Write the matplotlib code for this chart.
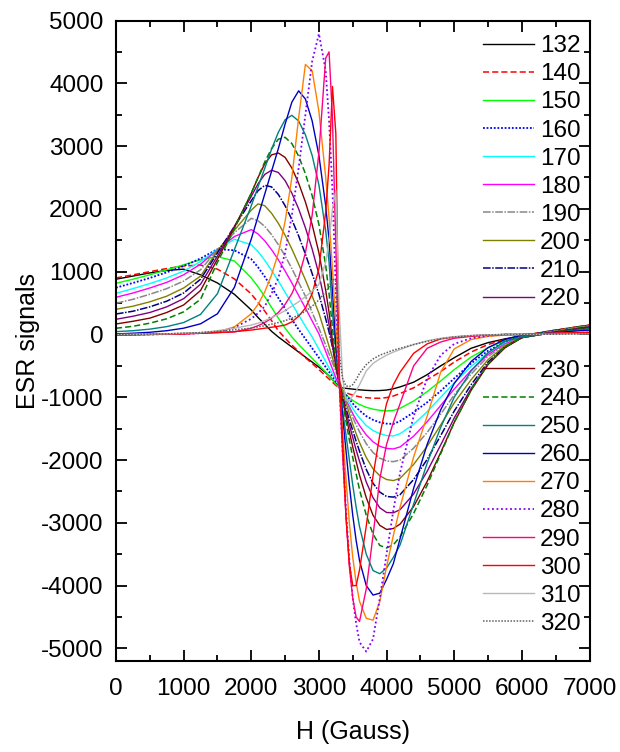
import matplotlib
matplotlib.use("Agg")
import matplotlib.pyplot as plt
from matplotlib.ticker import MultipleLocator

plt.rcParams['font.family'] = ['Liberation Sans', 'DejaVu Sans']
plt.rcParams['axes.unicode_minus'] = False

# Magnetic field grid (Gauss)
H = [0, 250, 500, 750, 1000, 1250, 1500, 1750, 2000, 2100, 2200, 2300, 2400, 2500,
     2600, 2700, 2800, 2900, 3000, 3100, 3150, 3200, 3250, 3300, 3350, 3400, 3450,
     3500, 3550, 3600, 3700, 3800, 3900, 4000, 4100, 4200, 4400, 4600, 4800, 5000,
     5250, 5500, 5750, 6000, 6500, 7000]

temps = ["132", "140", "150", "160", "170", "180", "190", "200", "210", "220",
         "230", "240", "250", "260", "270", "280", "290", "300", "310", "320"]

s132 = [880, 930, 980, 1020, 1040, 950, 820, 640, 390, 270, 160, 50, -40, -120,
        -200, -280, -360, -440, -520, -610, -660, -720, -780, -830, -850, -858, -864,
        -870, -876, -882, -890, -895, -893, -885, -865, -835, -760, -640, -500, -370,
        -220, -130, -70, -20, 70, 150]
s140 = [900, 950, 1000, 1050, 1090, 1105, 1040, 885, 645, 510, 370, 220, 60, -60,
        -170, -270, -370, -460, -560, -660, -710, -760, -810, -855, -895, -925, -948,
        -965, -980, -993, -1007, -1015, -1016, -1005, -980, -940, -850, -720, -590, -440,
        -280, -160, -80, -20, 70, 150]
s150 = [815, 880, 950, 1030, 1110, 1190, 1240, 1170, 900, 760, 600, 430, 260, 100,
        -40, -160, -270, -380, -490, -600, -660, -720, -790, -850, -910, -960, -1010,
        -1050, -1085, -1115, -1160, -1190, -1208, -1218, -1210, -1175, -1060, -910, -740, -560,
        -360, -210, -100, -30, 60, 140]
s160 = [745, 820, 900, 990, 1090, 1210, 1360, 1340, 1200, 1070, 920, 750, 580, 410,
        240, 80, -70, -220, -370, -520, -595, -670, -745, -820, -890, -960, -1030,
        -1100, -1160, -1210, -1300, -1360, -1400, -1420, -1425, -1380, -1240, -1080, -900, -700,
        -460, -260, -120, -30, 60, 130]
s170 = [656, 730, 810, 900, 1010, 1160, 1360, 1515, 1430, 1320, 1180, 1020, 850, 670,
        490, 310, 130, -40, -235, -430, -530, -625, -720, -820, -910, -1000, -1090,
        -1180, -1260, -1330, -1450, -1530, -1580, -1610, -1616, -1580, -1430, -1230, -1000, -770,
        -510, -290, -140, -40, 50, 130]
s180 = [592, 660, 740, 830, 950, 1120, 1350, 1560, 1670, 1600, 1490, 1350, 1190, 1010,
        820, 620, 420, 215, 10, -270, -410, -550, -690, -820, -940, -1050, -1150,
        -1260, -1360, -1450, -1600, -1710, -1780, -1815, -1823, -1790, -1620, -1390, -1130, -870,
        -570, -320, -150, -40, 50, 130]
s190 = [497, 560, 640, 730, 850, 1030, 1350, 1620, 1850, 1810, 1720, 1590, 1430, 1250,
        1050, 830, 610, 350, 100, -170, -310, -450, -590, -740, -880, -1030, -1170,
        -1320, -1440, -1550, -1740, -1880, -1970, -2015, -2025, -2000, -1810, -1560, -1270, -960,
        -630, -350, -160, -40, 50, 130]
s200 = [401, 450, 520, 610, 740, 930, 1330, 1660, 1980, 2080, 2050, 1930, 1770, 1580,
        1360, 1120, 870, 610, 340, -10, -190, -370, -550, -730, -910, -1090, -1260,
        -1430, -1580, -1720, -1960, -2140, -2250, -2310, -2327, -2290, -2070, -1780, -1440, -1090,
        -720, -400, -180, -40, 50, 130]
s210 = [326, 370, 440, 530, 660, 880, 1300, 1720, 2130, 2290, 2375, 2350, 2230, 2050,
        1830, 1570, 1280, 970, 640, 250, 40, -200, -480, -790, -990, -1180, -1360,
        -1530, -1700, -1860, -2150, -2370, -2510, -2580, -2590, -2550, -2310, -1990, -1610, -1220,
        -800, -440, -200, -50, 40, 120]
s220 = [242, 290, 350, 440, 570, 800, 1250, 1720, 2200, 2400, 2550, 2615, 2580, 2450,
        2250, 2000, 1700, 1360, 960, 450, 150, -180, -480, -780, -1010, -1230, -1440,
        -1640, -1840, -2020, -2350, -2600, -2760, -2835, -2840, -2790, -2540, -2180, -1760, -1330,
        -860, -470, -210, -50, 40, 120]
s230 = [167, 210, 260, 350, 470, 700, 1200, 1700, 2250, 2500, 2720, 2860, 2890, 2820,
        2650, 2410, 2110, 1750, 1300, 700, 350, -100, -450, -780, -1040, -1300, -1550,
        -1790, -2020, -2240, -2600, -2880, -3040, -3105, -3090, -3020, -2740, -2340, -1880, -1400,
        -890, -480, -210, -50, 40, 110]
s240 = [99, 130, 180, 250, 360, 560, 1150, 1680, 2250, 2500, 2750, 2960, 3110, 3140,
        3040, 2840, 2560, 2210, 1750, 1100, 650, 100, -380, -770, -1070, -1380, -1680,
        -1960, -2220, -2470, -2880, -3180, -3360, -3400, -3350, -3220, -2850, -2400, -1900, -1400,
        -880, -470, -200, -50, 40, 100]
s250 = [45, 60, 85, 125, 190, 320, 650, 1350, 2050, 2350, 2650, 2950, 3220, 3420,
        3490, 3400, 3180, 2850, 2380, 1650, 1150, 350, -250, -750, -1200, -1600, -2000,
        -2400, -2750, -3060, -3500, -3760, -3810, -3720, -3550, -3350, -2700, -2050, -1480, -1000,
        -580, -290, -110, -40, 30, 90]
s260 = [8, 20, 35, 60, 100, 170, 330, 750, 1520, 1880, 2240, 2600, 2960, 3350,
        3700, 3880, 3750, 3400, 2850, 2050, 1500, 700, -150, -750, -1300, -1850, -2400,
        -2880, -3280, -3600, -4000, -4150, -4120, -3900, -3650, -3250, -2450, -1750, -1200, -780,
        -430, -210, -80, -10, 30, 70]
s270 = [-5, 0, 5, 10, 15, 25, 40, 120, 330, 480, 680, 950, 1300, 1800,
        2500, 3450, 4300, 4200, 3550, 2500, 1850, 1050, 150, -750, -1550, -2300, -3000,
        -3550, -3950, -4250, -4520, -4550, -4250, -3700, -3200, -2750, -1950, -1300, -600, -230,
        -80, -30, -10, 0, 20, 40]
s280 = [-10, -5, 0, 5, 10, 20, 40, 110, 250, 340, 450, 650, 900, 1300,
        1900, 2650, 3500, 4350, 4790, 4200, 3400, 2300, 700, -750, -1850, -2800, -3600,
        -4200, -4600, -4900, -5050, -4850, -4200, -3500, -2800, -2200, -1300, -700, -330, -150,
        -60, -20, 0, 0, 15, 30]
s290 = [-10, -5, 0, 5, 10, 20, 30, 40, 100, 140, 190, 260, 350, 480,
        650, 900, 1300, 1900, 2900, 4400, 4500, 3450, 1400, -750, -1900, -2900, -3700,
        -4200, -4500, -4570, -4050, -3200, -2300, -1750, -1400, -1100, -500, -220, -120, -60,
        -30, -10, 0, 0, 15, 25]
s300 = [-10, -5, 0, 5, 10, 20, 30, 45, 70, 85, 100, 115, 130, 150,
        200, 290, 420, 650, 1050, 1950, 2700, 3950, 3200, -600, -1700, -2900, -3650,
        -4000, -4000, -3750, -3050, -2250, -1600, -1100, -800, -600, -300, -150, -70, -40,
        -20, -10, 0, 0, 20, 30]
s310 = [0, 2, 5, 10, 20, 30, 60, 100, 150, 180, 220, 270, 320, 380,
        450, 520, 600, 690, 800, 1150, 1500, 2000, 2300, 400, -700, -1050, -1050,
        -980, -900, -800, -580, -460, -390, -330, -280, -240, -160, -100, -60, -35,
        -15, -5, 0, 0, 5, 10]
s320 = [0, 2, 5, 10, 20, 30, 50, 75, 100, 120, 140, 165, 190, 220,
        260, 310, 370, 450, 550, 680, 760, 880, 850, -300, -700, -820, -830,
        -800, -720, -620, -480, -390, -330, -290, -250, -220, -160, -110, -70, -40,
        -20, -8, 0, 0, 5, 10]

series = [s132, s140, s150, s160, s170, s180, s190, s200, s210, s220,
          s230, s240, s250, s260, s270, s280, s290, s300, s310, s320]

colors = ['#000000', '#FF0000', '#00FF00', '#0000FF', '#00FFFF', '#FF00FF',
          '#888888', '#808000', '#000080', '#800080', '#800000', '#008000',
          '#008080', '#0000C0', '#FF8000', '#8000FF', '#FF0080', '#FF0000',
          '#B8B8B8', '#606060']
styles = ['-', (0, (4, 2)), '-', (0, (1, 1)), '-', '-', (0, (5, 1, 1, 1)), '-',
          (0, (5, 1, 1, 1)), '-', '-', (0, (4, 2)), '-', '-', '-', (0, (1, 1.5)),
          '-', '-', '-', (0, (1, 1))]
widths = [1.0, 1.1, 1.0, 1.3, 1.0, 1.0, 1.1, 1.0, 1.1, 1.0,
          1.0, 1.1, 1.0, 1.0, 1.0, 1.3, 1.0, 1.0, 1.0, 1.1]

fig = plt.figure(figsize=(6.2, 7.52), dpi=100)
ax = fig.add_axes([116 / 620, 1 - 661 / 752, (589.5 - 116) / 620, (661 - 20.5) / 752])

handles = []
for t, ys, c, ls, lw in zip(temps, series, colors, styles, widths):
    ln, = ax.plot(H, ys, color=c, linestyle=ls, linewidth=lw, label=t)
    handles.append(ln)

ax.set_xlim(0, 7000)
ax.set_ylim(-5200, 5000)
ax.xaxis.set_major_locator(MultipleLocator(1000))
ax.xaxis.set_minor_locator(MultipleLocator(500))
ax.yaxis.set_major_locator(MultipleLocator(1000))
ax.yaxis.set_minor_locator(MultipleLocator(500))
ax.tick_params(which='both', direction='in', top=True, right=True, width=1.3,
               labelsize=17.5)
ax.tick_params(axis='x', which='both', pad=12.5)
ax.tick_params(axis='y', which='both', pad=9)
ax.tick_params(which='major', length=8)
ax.tick_params(which='minor', length=4.5)
for sp in ax.spines.values():
    sp.set_linewidth(1.5)

ax.set_xlabel('H (Gauss)', fontsize=18, labelpad=14)
ax.set_ylabel('ESR signals', fontsize=18, labelpad=1)

leg_kw = dict(frameon=False, fontsize=17.5, handlelength=2.1, handletextpad=0.25,
              labelspacing=0.25, borderaxespad=0, borderpad=0, loc='upper left')
leg1 = ax.legend(handles=handles[:10], bbox_to_anchor=(0.775, 0.977), **leg_kw)
ax.add_artist(leg1)
ax.legend(handles=handles[10:], bbox_to_anchor=(0.775, 0.470), **leg_kw)

fig.savefig('out.png', dpi=100)
